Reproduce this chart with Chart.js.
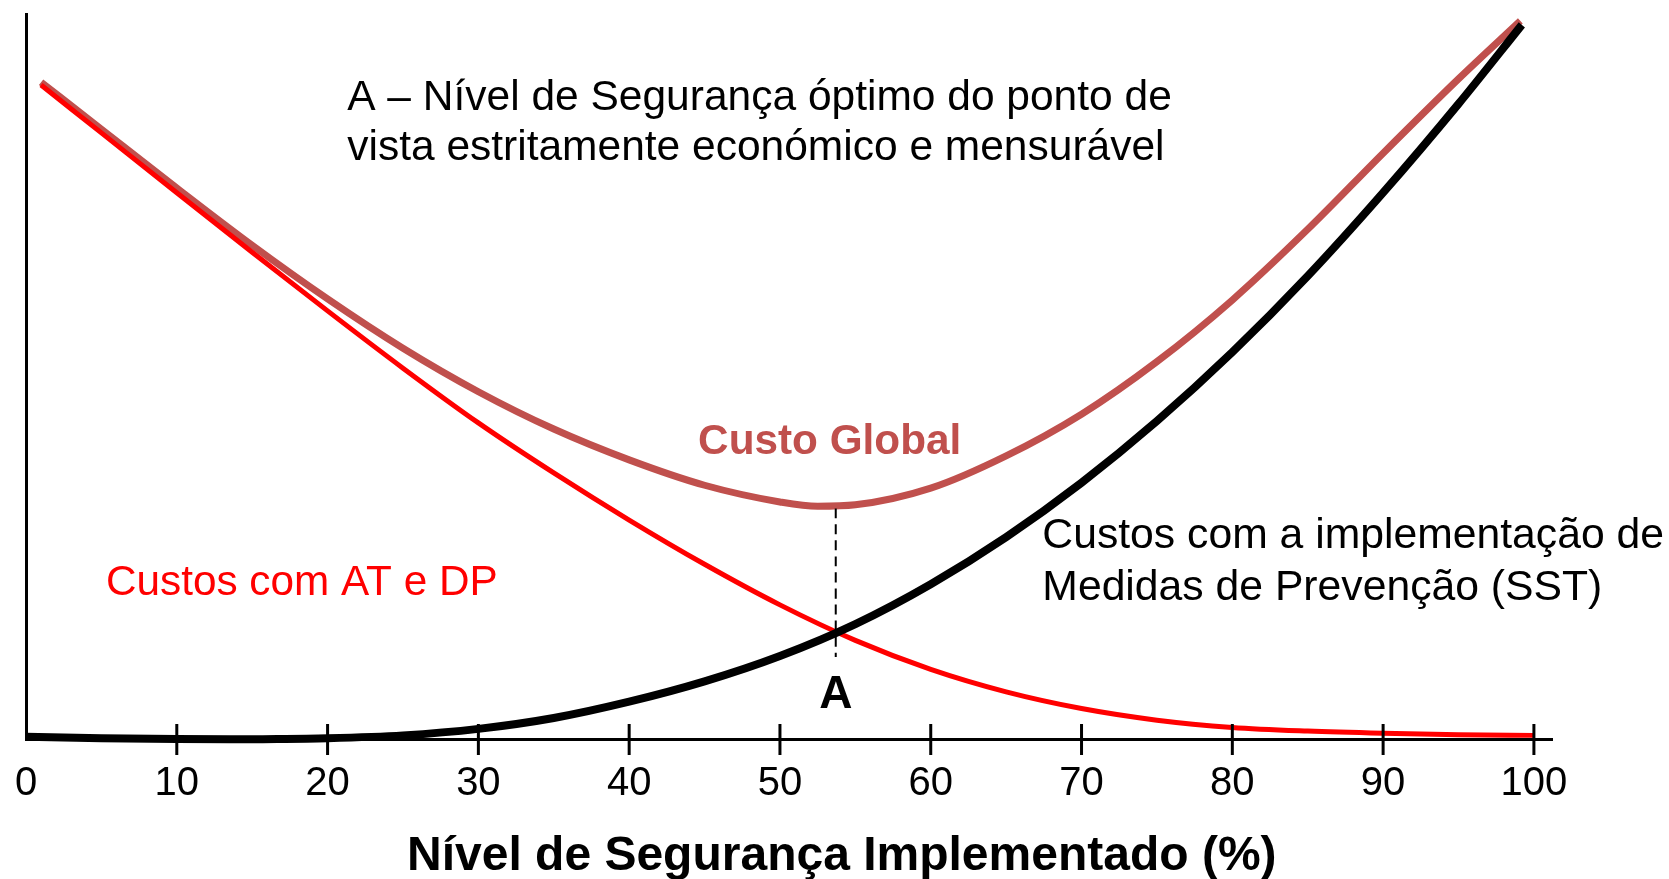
<!DOCTYPE html>
<html>
<head>
<meta charset="utf-8">
<script src="https://cdn.jsdelivr.net/npm/chart.js@4.4.1/dist/chart.umd.min.js"></script>
<style>
  html, body { margin: 0; padding: 0; background: #fff; }
</style>
</head>
<body>
<canvas id="grafico" width="1669" height="879"></canvas>
<script>
// valores (eixo y em unidades arbitrarias, 0-100)
const xAT = [1, 5, 10, 15, 20, 25, 30, 35, 40, 45, 50, 55, 60, 65, 70, 75, 80, 85, 90, 95, 100];
const custoAT = [90.2, 83.6, 75.35, 67.15, 59.05, 51.15, 43.6, 36.7, 30.2, 24.1, 18.5, 13.6, 9.6, 6.5, 4.2, 2.6, 1.6, 1.1, 0.8, 0.6, 0.5];

const xSST = [0, 5, 10, 15, 20, 25, 30, 35, 40, 45, 50, 55, 60, 65, 70, 75, 80, 85, 90, 95, 99.2];
const custoSST = [0.3, 0.1, 0, -0.05, 0.1, 0.5, 1.4, 2.9, 5.15, 7.95, 11.45, 15.85, 21.35, 27.85, 35.35, 43.85, 53.35, 63.85, 75.35, 87.6, 98.5];

const xGlobal = [1, 5, 10, 15, 20, 25, 30, 35, 40, 45, 50, 52.5, 55, 60, 65, 70, 75, 80, 85, 90, 95, 99.1];
const custoGlobal = [90.6, 84.1, 76.0, 68.1, 60.7, 53.9, 47.9, 42.75, 38.5, 35.0, 32.7, 32.1, 32.3, 34.6, 39.05, 44.8, 52.05, 60.55, 70.3, 80.8, 91.05, 99.05];

const ticksX = [0, 10, 20, 30, 40, 50, 60, 70, 80, 90, 100];

// ponto A (nivel optimo)
const pontoA = 53.7;
const linhaA = [31.8, 11.3];

const fonte = "'Liberation Sans', Arial, sans-serif";

const pares = (xs, ys) => xs.map((v, i) => ({ x: v, y: ys[i] }));

// textos da figura, posicionados em unidades dos eixos
const textos = [
  { texto: "A – Nível de Segurança óptimo do ponto de", x: 21.3, y: 86.8, peso: "normal", tam: 42.5, cor: "#000", alinha: "left" },
  { texto: "vista estritamente económico e mensurável", x: 21.3, y: 79.9, peso: "normal", tam: 42.5, cor: "#000", alinha: "left" },
  { texto: "Custo Global", x: 53.3, y: 39.3, peso: "bold", tam: 42.3, cor: "#C0504D", alinha: "center" },
  { texto: "Custos com AT e DP", x: 5.3, y: 19.9, peso: "normal", tam: 42.3, cor: "#FF0000", alinha: "left" },
  { texto: "Custos com a implementação de", x: 67.4, y: 26.3, peso: "normal", tam: 42.7, cor: "#000", alinha: "left" },
  { texto: "Medidas de Prevenção (SST)", x: 67.4, y: 19.2, peso: "normal", tam: 42.7, cor: "#000", alinha: "left" },
  { texto: "A", x: pontoA, y: 4.3, peso: "bold", tam: 46, cor: "#000", alinha: "center" },
  { texto: "Nível de Segurança Implementado (%)", x: 54.1, y: -18.1, peso: "bold", tam: 48, cor: "#000", alinha: "center" }
];

const anotacoes = {
  id: "anotacoes",
  afterDraw(chart) {
    const { ctx, scales: { x, y } } = chart;
    ctx.save();
    // tracinhos do eixo x, atravessando o eixo
    ctx.strokeStyle = "#000";
    ctx.lineWidth = 3;
    x.ticks.forEach((t) => {
      if (t.value === 0) return;
      const px = x.getPixelForValue(t.value);
      ctx.beginPath();
      ctx.moveTo(px, y.bottom - 15);
      ctx.lineTo(px, y.bottom + 16);
      ctx.stroke();
    });
    textos.forEach((t) => {
      ctx.font = `${t.peso} ${t.tam}px ${fonte}`;
      ctx.fillStyle = t.cor;
      ctx.textAlign = t.alinha;
      ctx.textBaseline = "alphabetic";
      ctx.fillText(t.texto, x.getPixelForValue(t.x), y.getPixelForValue(t.y));
    });
    ctx.restore();
  }
};

const ctx = document.getElementById("grafico");

new Chart(ctx, {
  type: "line",
  data: {
    datasets: [
      {
        label: "Custos com a implementação de Medidas de Prevenção (SST)",
        data: pares(xSST, custoSST),
        borderColor: "#000000",
        borderWidth: 8,
        order: 1
      },
      {
        label: "Custos com AT e DP",
        data: pares(xAT, custoAT),
        borderColor: "#FF0000",
        borderWidth: 5,
        order: 2
      },
      {
        label: "Custo Global",
        data: pares(xGlobal, custoGlobal),
        borderColor: "#C0504D",
        borderWidth: 7,
        order: 3
      },
      {
        label: "A",
        data: [{ x: pontoA, y: linhaA[0] }, { x: pontoA, y: linhaA[1] }],
        borderColor: "#000000",
        borderWidth: 2,
        borderDash: [10, 6],
        order: 0
      }
    ]
  },
  options: {
    responsive: false,
    animation: false,
    layout: { padding: { top: 14, right: 117, bottom: 0, left: 0 } },
    elements: {
      point: { radius: 0 },
      line: { cubicInterpolationMode: "monotone", fill: false, borderCapStyle: "butt" }
    },
    datasets: { line: { clip: false } },
    plugins: { legend: { display: false }, tooltip: { enabled: false } },
    scales: {
      x: {
        type: "linear",
        min: 0,
        max: 101.2,
        afterBuildTicks: (scale) => {
          scale.ticks = ticksX.map((v) => ({ value: v }));
        },
        afterFit: (scale) => { scale.height = 140; },
        border: { color: "#000", width: 3 },
        grid: { color: "rgba(0,0,0,0)", drawOnChartArea: false, tickLength: 15 },
        ticks: {
          color: "#000",
          padding: 6,
          maxRotation: 0,
          autoSkip: false,
          font: { family: fonte, size: 40 }
        }
      },
      y: {
        min: 0,
        max: 100,
        afterFit: (scale) => { scale.width = 26; },
        border: { color: "#000", width: 3 },
        grid: { display: false },
        ticks: { display: false }
      }
    }
  },
  plugins: [anotacoes]
});
</script>
</body>
</html>
